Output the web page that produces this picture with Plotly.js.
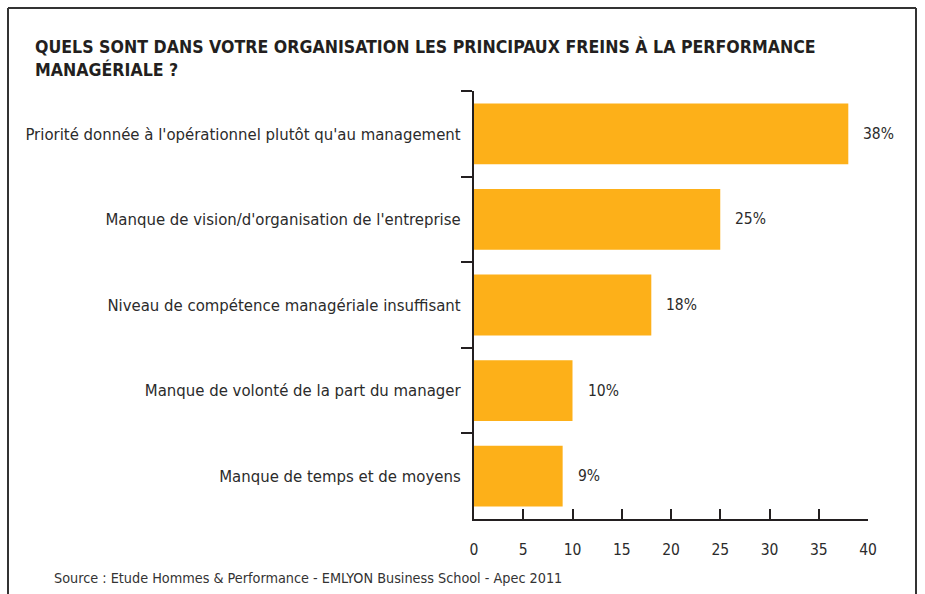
<!DOCTYPE html>
<html>
<head>
<meta charset="utf-8">
<script src="https://cdn.plot.ly/plotly-3.0.1.min.js"></script>
<style>html,body{margin:0;padding:0;background:#fff;}#chart{width:925px;height:594px;}</style>
</head>
<body>
<div id="chart"></div>
<script>
const categories = [
  "Priorité donnée à l'opérationnel plutôt qu'au management",
  "Manque de vision/d'organisation de l'entreprise",
  "Niveau de compétence managériale insuffisant",
  "Manque de volonté de la part du manager",
  "Manque de temps et de moyens"
];
const values = [38, 25, 18, 10, 9];
const xTicks = [0, 5, 10, 15, 20, 25, 30, 35, 40];
const titleText = "QUELS SONT DANS VOTRE ORGANISATION LES PRINCIPAUX FREINS À LA PERFORMANCE<br>MANAGÉRIALE ?";
const sourceText = "Source : Etude Hommes & Performance - EMLYON Business School - Apec 2011";

const W = 925, H = 594;
const L = 474, R = 57, T = 91, B = 75;
const pw = W - L - R, ph = H - T - B;
const px = x => (x - L) / pw;
const py = y => (H - B - y) / ph;

const dark = "#231f20";
const text = "#2b2b2b";
const font = "DejaVu Sans Condensed, DejaVu Sans, sans-serif";

const trace = {
  type: "bar",
  orientation: "h",
  x: values,
  y: categories,
  marker: {color: "#fdb019"},
  width: 0.71,
  hoverinfo: "none"
};

const annotations = values.map((v, i) => ({
  x: v, y: categories[i], xref: "x", yref: "y",
  text: v + "%", showarrow: false, xanchor: "left", xshift: 13,
  font: {family: font, size: 15.5, color: text}
}));
annotations.push({
  x: px(52), y: py(578), xref: "paper", yref: "paper",
  text: sourceText, showarrow: false, xanchor: "left", yanchor: "middle",
  font: {family: font, size: 14.3, color: "#333"}
});

const layout = {
  width: W, height: H,
  margin: {l: L, r: R, t: T, b: B, pad: 0},
  paper_bgcolor: "#fff", plot_bgcolor: "#fff",
  showlegend: false,
  title: {
    text: titleText, xref: "container", yref: "container",
    x: 35 / W, xanchor: "left", y: 1 - 53 / H, yanchor: "top",
    font: {family: font, size: 17.6, color: dark, weight: "bold"}
  },
  xaxis: {
    range: [0, 40], tickvals: xTicks, ticktext: xTicks.map(String),
    showgrid: false, zeroline: false,
    showline: true, linecolor: dark, linewidth: 2,
    ticks: "inside", ticklen: 10, tickwidth: 2, tickcolor: dark,
    ticklabelstandoff: 15,
    tickfont: {family: font, size: 15.5, color: text},
    fixedrange: true
  },
  yaxis: {
    type: "category", categoryorder: "array", categoryarray: categories,
    range: [4.5, -0.5],
    showgrid: false, zeroline: false,
    showline: true, linecolor: dark, linewidth: 2,
    ticks: "outside", ticklen: 11, tickwidth: 2, tickcolor: dark,
    tickson: "boundaries",
    ticklabelstandoff: 8,
    tickfont: {family: font, size: 16.6, color: text},
    fixedrange: true
  },
  annotations: annotations,
  shapes: [
    {type: "line", xref: "paper", yref: "paper", x0: px(8), x1: px(916), y0: py(8), y1: py(8), line: {color: "#333", width: 2}},
    {type: "line", xref: "paper", yref: "paper", x0: px(8), x1: px(8), y0: py(8), y1: py(600), line: {color: "#333", width: 2}},
    {type: "line", xref: "paper", yref: "paper", x0: px(916), x1: px(916), y0: py(8), y1: py(600), line: {color: "#333", width: 2}}
  ]
};

Plotly.newPlot("chart", [trace], layout, {displayModeBar: false, staticPlot: true});
</script>
</body>
</html>
